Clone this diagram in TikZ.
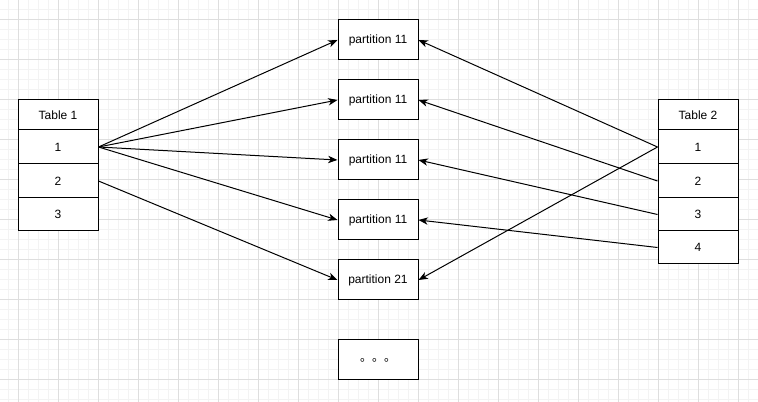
\documentclass[tikz,border=0pt]{standalone}
\usepackage{fontspec}
\setmainfont{Liberation Sans}
\newfontfamily\cjkfont{Noto Sans CJK SC}
\usetikzlibrary{arrows.meta}
\definecolor{gridminor}{HTML}{F3F3F3}
\definecolor{gridmajor}{HTML}{DEDEDE}
\tikzset{
  cell/.style={draw=black, line width=0.75pt, fill=white, minimum width=60pt, inner sep=0pt, font=\fontsize{9pt}{11pt}\selectfont, text=black},
  part/.style={cell, minimum height=30pt},
  link/.style={draw=black, line width=0.75pt, -{Stealth[length=7pt,width=5.5pt,inset=2pt]}}
}
\begin{document}
\begin{tikzpicture}[x=0.75pt,y=-0.75pt]
\useasboundingbox (0,0) rectangle (758,402);
\fill[white] (0,0) rectangle (758,402);
% grid
\foreach \gx in {8,18,...,758} {\draw[gridminor, line width=0.75pt] (\gx,0) -- (\gx,402);}
\foreach \gy in {0,10,...,402} {\draw[gridminor, line width=0.75pt] (0,\gy) -- (758,\gy);}
\foreach \gx in {18,58,...,758} {\draw[gridmajor, line width=0.75pt] (\gx,0) -- (\gx,402);}
\foreach \gy in {20,60,...,402} {\draw[gridmajor, line width=0.75pt] (0,\gy) -- (758,\gy);}
% Table 1
\node[cell, minimum height=22.5pt] (t1h) at (58,115) {Table 1};
\node[cell, minimum height=25.5pt] (t1a) at (58,147) {1};
\node[cell, minimum height=25.5pt] (t1b) at (58,181) {2};
\node[cell, minimum height=24.75pt] (t1c) at (58,214.5) {3};
% Table 2
\node[cell, minimum height=22.5pt] (t2h) at (698,115) {Table 2};
\node[cell, minimum height=25.5pt] (t2a) at (698,147) {1};
\node[cell, minimum height=25.5pt] (t2b) at (698,181) {2};
\node[cell, minimum height=24.75pt] (t2c) at (698,214.5) {3};
\node[cell, minimum height=24.75pt] (t2d) at (698,247.5) {4};
% partitions
\node[part] (p1) at (378,40) {partition 11};
\node[part] (p2) at (378,100) {partition 11};
\node[part] (p3) at (378,160) {partition 11};
\node[part] (p4) at (378,220) {partition 11};
\node[part] (p5) at (378,280) {partition 21};
\node[part] (p6) at (378,360) {\cjkfont 。。。};
% connectors from Table 1
\draw[link] (t1a.east) -- (p1.west);
\draw[link] (t1a.east) -- (p2.west);
\draw[link] (t1a.east) -- (p3.west);
\draw[link] (t1a.east) -- (p4.west);
\draw[link] (t1b.east) -- (p5.west);
% connectors from Table 2
\draw[link] (t2a.west) -- (p1.east);
\draw[link] (t2a.west) -- (p5.east);
\draw[link] (t2b.west) -- (p2.east);
\draw[link] (t2c.west) -- (p3.east);
\draw[link] (t2d.west) -- (p4.east);
\end{tikzpicture}
\end{document}
